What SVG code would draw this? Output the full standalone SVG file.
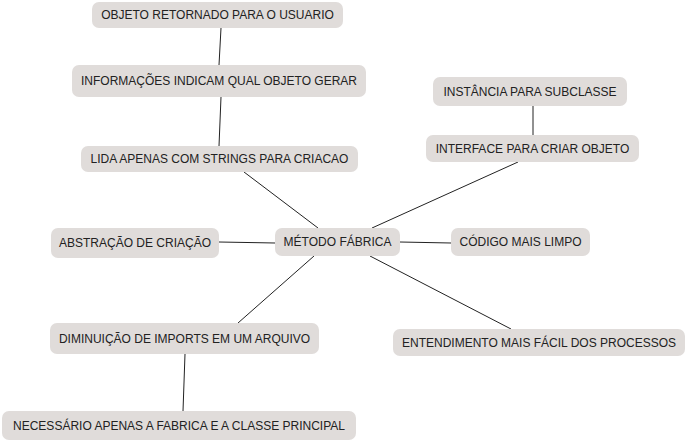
<svg xmlns="http://www.w3.org/2000/svg" width="687" height="442" viewBox="0 0 687 442">
<style>
.n rect{fill:#e0dcda;rx:7px;ry:7px}
.n text{font-family:"Liberation Sans",Arial,sans-serif;font-size:12px;fill:#222;text-anchor:middle;dominant-baseline:central}
#edges line{stroke:#222;stroke-width:1}
</style>
<rect width="687" height="442" fill="#fff"/>
<g id="edges">
<line x1="221" y1="28" x2="219" y2="65"/>
<line x1="221" y1="97" x2="219" y2="146"/>
<line x1="244" y1="172" x2="318" y2="228"/>
<line x1="219" y1="242" x2="275" y2="243"/>
<line x1="400" y1="242" x2="451" y2="243"/>
<line x1="314" y1="256" x2="238" y2="323"/>
<line x1="185" y1="354" x2="183" y2="411"/>
<line x1="533" y1="106" x2="533" y2="135"/>
<line x1="518" y1="162" x2="372" y2="228"/>
<line x1="370" y1="256" x2="511" y2="329"/>
</g>
<g id="n1" class="n"><rect x="92" y="2" width="251" height="26"/><text x="217.5" y="15">OBJETO RETORNADO PARA O USUARIO</text></g>
<g id="n2" class="n"><rect x="72" y="65" width="294" height="32"/><text x="219" y="81">INFORMAÇÕES INDICAM QUAL OBJETO GERAR</text></g>
<g id="n3" class="n"><rect x="81" y="146" width="277" height="26"/><text x="219.5" y="159">LIDA APENAS COM STRINGS PARA CRIACAO</text></g>
<g id="n4" class="n"><rect x="275" y="228" width="125" height="28"/><text x="337.5" y="242">MÉTODO FÁBRICA</text></g>
<g id="n5" class="n"><rect x="451" y="228" width="139" height="28"/><text x="520.5" y="242">CÓDIGO MAIS LIMPO</text></g>
<g id="n6" class="n"><rect x="51" y="228" width="168" height="30"/><text x="135" y="243">ABSTRAÇÃO DE CRIAÇÃO</text></g>
<g id="n7" class="n"><rect x="50" y="323" width="269" height="31"/><text x="184.5" y="338.5">DIMINUIÇÃO DE IMPORTS EM UM ARQUIVO</text></g>
<g id="n8" class="n"><rect x="2" y="411" width="354" height="29"/><text x="179" y="425.5">NECESSÁRIO APENAS A FABRICA E A CLASSE PRINCIPAL</text></g>
<g id="n9" class="n"><rect x="433" y="77" width="194" height="29"/><text x="530" y="91.5">INSTÂNCIA PARA SUBCLASSE</text></g>
<g id="n10" class="n"><rect x="426" y="135" width="213" height="27"/><text x="532.5" y="148.5">INTERFACE PARA CRIAR OBJETO</text></g>
<g id="n11" class="n"><rect x="393" y="329" width="292" height="27"/><text x="539" y="342.5">ENTENDIMENTO MAIS FÁCIL DOS PROCESSOS</text></g>
</svg>
